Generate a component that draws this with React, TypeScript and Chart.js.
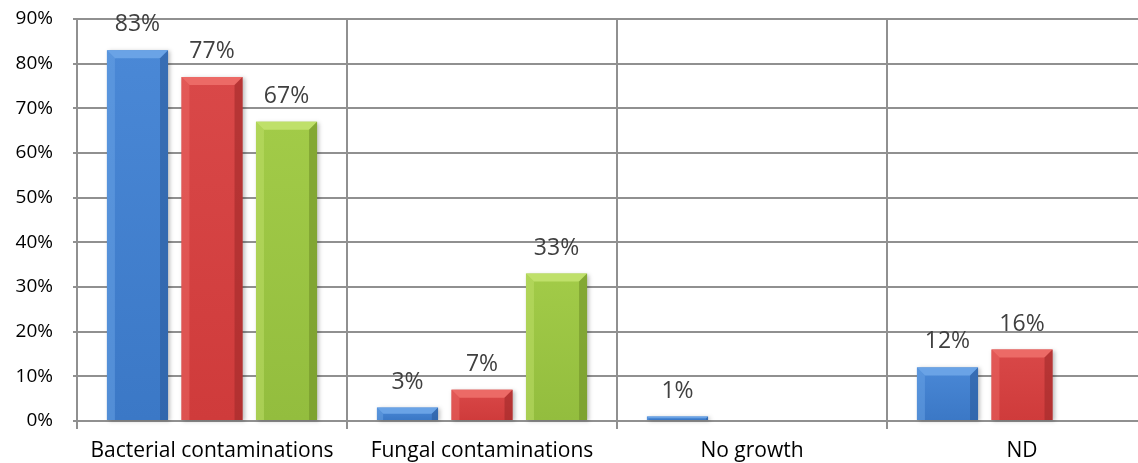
import React, { useEffect, useRef } from "react";
import { Chart, registerables } from "chart.js";

Chart.register(...registerables);

const categories = ["Bacterial contaminations", "Fungal contaminations", "No growth", "ND"];
const seriesBlue = [83, 3, 1, 12];
const seriesRed = [77, 7, null, 16];
const seriesGreen = [67, 33, null, null];
const yTicks = [0, 10, 20, 30, 40, 50, 60, 70, 80, 90];

const FONT = "'Open Sans', sans-serif";

const palettes = [
  { base: "#3b78c6", light: "#6aa3e6", mid: "#4a88d6", dark: "#2c5c9c" },
  { base: "#cf3b3b", light: "#ec6a66", mid: "#d94848", dark: "#a02a2a" },
  { base: "#93bd3e", light: "#bfe06a", mid: "#a2cb48", dark: "#6f9128" },
];

const bevelPlugin = {
  id: "bevelBars",
  afterDatasetsDraw(chart: any) {
    const ctx = chart.ctx;
    chart.data.datasets.forEach((ds: any, di: number) => {
      const meta = chart.getDatasetMeta(di);
      const p = palettes[di];
      meta.data.forEach((bar: any, i: number) => {
        const v = ds.data[i];
        if (v === null || v === undefined) return;
        const left = bar.x - bar.width / 2;
        const right = bar.x + bar.width / 2;
        const top = bar.y;
        const bottom = bar.base;
        const h = bottom - top;
        if (h <= 0) return;
        ctx.save();
        ctx.shadowColor = "rgba(0,0,0,0.25)";
        ctx.shadowBlur = 4;
        ctx.shadowOffsetX = 2;
        ctx.shadowOffsetY = 1;
        const g = ctx.createLinearGradient(0, top, 0, bottom);
        g.addColorStop(0, p.mid);
        g.addColorStop(1, p.base);
        ctx.fillStyle = g;
        ctx.fillRect(left, top, right - left, h);
        ctx.restore();
        ctx.save();
        const b = Math.min(8, h / 2);
        ctx.fillStyle = p.light;
        ctx.beginPath();
        ctx.moveTo(left, top);
        ctx.lineTo(right, top);
        ctx.lineTo(right - b, top + b);
        ctx.lineTo(left + b, top + b);
        ctx.closePath();
        ctx.fill();
        ctx.globalAlpha = 0.5;
        ctx.fillStyle = p.light;
        ctx.beginPath();
        ctx.moveTo(left, top);
        ctx.lineTo(left + b, top + b);
        ctx.lineTo(left + b, bottom);
        ctx.lineTo(left, bottom);
        ctx.closePath();
        ctx.fill();
        ctx.globalAlpha = 0.6;
        ctx.fillStyle = p.dark;
        ctx.beginPath();
        ctx.moveTo(right, top);
        ctx.lineTo(right - b, top + b);
        ctx.lineTo(right - b, bottom);
        ctx.lineTo(right, bottom);
        ctx.closePath();
        ctx.fill();
        ctx.restore();
        ctx.save();
        ctx.fillStyle = "#404040";
        ctx.font = `23px ${FONT}`;
        ctx.textAlign = "center";
        ctx.textBaseline = "alphabetic";
        ctx.fillText(`${v}%`, bar.x, top - 19);
        ctx.restore();
      });
    });
  },
};

export default function App() {
  const ref = useRef<HTMLCanvasElement>(null);
  useEffect(() => {
    if (!ref.current) return;
    const mk = (data: any[]) => ({
      data,
      backgroundColor: "rgba(0,0,0,0)",
      borderWidth: 0,
      categoryPercentage: 0.828,
      barPercentage: 0.82,
    });
    const chart = new Chart(ref.current, {
      type: "bar",
      data: {
        labels: categories,
        datasets: [mk(seriesBlue), mk(seriesRed), mk(seriesGreen)],
      },
      plugins: [bevelPlugin],
      options: {
        responsive: false,
        animation: false,
        devicePixelRatio: 1,
        layout: { padding: { top: 19, right: 0, left: 0, bottom: 0 } },
        plugins: { legend: { display: false }, tooltip: { enabled: false } },
        scales: {
          x: {
            offset: true,
            grid: { offset: true, color: "#909090", lineWidth: 2, tickLength: 8, drawOnChartArea: true },
            border: { display: true, color: "#909090", width: 2 },
            ticks: { color: "#000", font: { family: FONT, size: 21 }, padding: 9, maxRotation: 0 },
            afterFit(scale: any) { scale.height = 42; },
          },
          y: {
            min: 0,
            max: 90,
            afterBuildTicks(scale: any) { scale.ticks = yTicks.map((v) => ({ value: v })); },
            grid: { color: "#909090", lineWidth: 2, tickLength: 4 },
            border: { display: true, color: "#909090", width: 2 },
            ticks: { color: "#000", font: { family: FONT, size: 19 }, padding: 20, callback: (v: any) => `${v}%` },
            afterFit(scale: any) {
              scale.width = 77;
              scale.paddingTop = 0;
              scale.paddingBottom = 0;
            },
          },
        },
      },
    });
    return () => chart.destroy();
  }, []);
  return (
    <div style={{ position: "absolute", left: 0, top: 0, width: 1138, height: 463, overflow: "hidden", background: "#fff" }}>
      <canvas ref={ref} width={1157} height={463} style={{ width: 1157, height: 463, display: "block" }} />
    </div>
  );
}
